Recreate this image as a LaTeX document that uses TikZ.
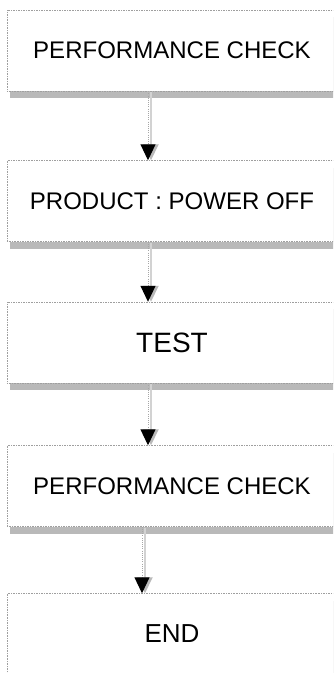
\documentclass[tikz,border=0pt]{standalone}
\usepackage{fontspec}
\setmainfont{Liberation Sans}
\usetikzlibrary{arrows.meta,calc,shadows}

\tikzset{
	stepbox/.style={draw=gray!75,densely dotted,fill=white,inner sep=0pt,
		minimum width=99mm,minimum height=24.3mm,
		drop shadow={shadow xshift=0.9mm,shadow yshift=-2.1mm,fill=gray!55,opacity=1}},
	flow/.style={gray!70,densely dotted,line width=0.3mm,
		-{Triangle[width=4.5mm,length=4.8mm,color=black]}},
	flowshadow/.style={gray!35,line width=0.6mm,
		-{Triangle[width=4.5mm,length=4.8mm,color=gray!55]}},
	big/.style={font=\fontsize{20.5}{24}\selectfont}
}

\begin{document}
\begin{tikzpicture}[x=0.3mm,y=-0.3mm]
		\clip (0,0) rectangle (333,673);
		% boxes
		\node[stepbox,big] (check1) at (172,50.5) {PERFORMANCE CHECK};
		\node[stepbox,big] (off) at (172,201) {PRODUCT : POWER OFF};
		\node[stepbox,font=\fontsize{23.9}{28}\selectfont] (test) at (172,342.5) {TEST};
		\node[stepbox,big] (check2) at (172,486) {PERFORMANCE CHECK};
		\node[stepbox,font=\fontsize{22.2}{26}\selectfont] (end) at (172,634) {END};
		% connectors
		\draw[flowshadow] ($(check1.south)+(-21,1)$) -- ($(off.north)+(-21,0)$);
		\draw[flowshadow] ($(off.south)+(-21,1)$) -- ($(test.north)+(-21,0)$);
		\draw[flowshadow] ($(test.south)+(-21,1)$) -- ($(check2.north)+(-21,0)$);
		\draw[flowshadow] ($(check2.south)+(-27,1)$) -- ($(end.north)+(-27,0)$);
		\draw[flow] ($(check1.south)+(-24,0)$) -- ($(off.north)+(-24,0)$);
		\draw[flow] ($(off.south)+(-24,0)$) -- ($(test.north)+(-24,0)$);
		\draw[flow] ($(test.south)+(-24,0)$) -- ($(check2.north)+(-24,0)$);
		\draw[flow] ($(check2.south)+(-30,0)$) -- ($(end.north)+(-30,0)$);
\end{tikzpicture}
\end{document}
